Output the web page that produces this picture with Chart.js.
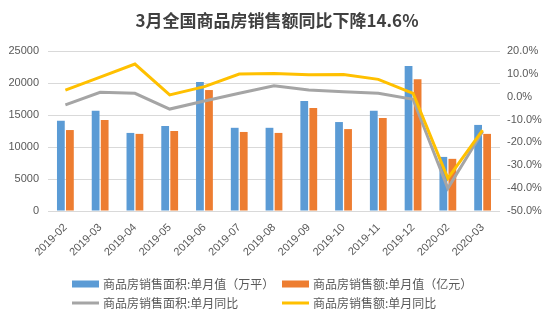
<!DOCTYPE html>
<html>
<head>
<meta charset="utf-8">
<script src="https://cdn.jsdelivr.net/npm/chart.js@4/dist/chart.umd.min.js"></script>
<style>
  html, body { margin: 0; padding: 0; background: #fff; }
  #wrap { width: 554px; height: 322px; }
</style>
</head>
<body>
<div id="wrap"><canvas id="chart" width="554" height="322"></canvas></div>
<script>
const months = ['2019-02', '2019-03', '2019-04', '2019-05', '2019-06', '2019-07', '2019-08',
    '2019-09', '2019-10', '2019-11', '2019-12', '2020-02', '2020-03'];
// 单月值
const areaMonthly = [14100, 15650, 12200, 13300, 20150, 13000, 13000, 17200, 13900, 15650, 22650, 8450, 13450];
const salesMonthly = [12650, 14200, 12050, 12500, 18900, 12350, 12200, 16100, 12800, 14550, 20600, 8150, 12050];
// 单月同比 (%)
const areaYoY = [-3.6, 1.9, 1.5, -5.4, -1.9, 1.5, 4.8, 2.9, 2.2, 1.5, -1.1, -40.1, -15.2];
const salesYoY = [2.9, 8.6, 14.3, 0.8, 4.4, 9.9, 10.2, 9.6, 9.7, 7.6, 1.5, -35.7, -14.6];

const seriesNames = ['商品房销售面积:单月值（万平）', '商品房销售额:单月值（亿元）',
    '商品房销售面积:单月同比', '商品房销售额:单月同比'];

const tickFont = { family: "'Liberation Sans', Arial, sans-serif", size: 11 };
const txtColor = '#595959';

// legend in two fixed columns, like the original
const legendPlugin = {
    id: 'twoColLegend',
    afterDraw(chart) {
        const c = chart.ctx;
        const ds = chart.data.datasets;
        const cols = [72, 282];
        const rows = [284, 303];
        c.save();
        c.font = "12px 'Noto Sans CJK SC', sans-serif";
        c.textBaseline = 'middle';
        ds.forEach((d, i) => {
            const x = cols[i % 2];
            const y = rows[Math.floor(i / 2)];
            if (d.type === 'line') {
                c.fillStyle = d.borderColor;
                c.fillRect(x, y - 1.5, 27, 3);
            } else {
                c.fillStyle = d.backgroundColor;
                c.fillRect(x, y - 3.5, 27, 7);
            }
            c.fillStyle = txtColor;
            c.fillText(d.label, x + 31, y);
        });
        c.restore();
    }
};

new Chart(document.getElementById('chart'), {
    data: {
        labels: months,
        datasets: [
            { type: 'bar', label: seriesNames[0], data: areaMonthly, backgroundColor: '#5B9BD5',
              yAxisID: 'y', order: 2, categoryPercentage: 0.52, barPercentage: 0.86 },
            { type: 'bar', label: seriesNames[1], data: salesMonthly, backgroundColor: '#ED7D31',
              yAxisID: 'y', order: 2, categoryPercentage: 0.52, barPercentage: 0.86 },
            { type: 'line', label: seriesNames[2], data: areaYoY, borderColor: '#A5A5A5',
              backgroundColor: '#A5A5A5', borderWidth: 3, pointRadius: 0, tension: 0,
              yAxisID: 'y1', order: 1 },
            { type: 'line', label: seriesNames[3], data: salesYoY, borderColor: '#FFC000',
              backgroundColor: '#FFC000', borderWidth: 3, pointRadius: 0, tension: 0,
              yAxisID: 'y1', order: 0 }
        ]
    },
    options: {
        responsive: false,
        animation: false,
        layout: { padding: { top: 2, left: 0, right: 0, bottom: 50 } },
        plugins: {
            legend: { display: false },
            tooltip: { enabled: false },
            title: {
                display: true,
                text: '3月全国商品房销售额同比下降14.6%',
                color: '#404040',
                font: { family: "'Noto Sans CJK SC', sans-serif", size: 17, weight: 'bold' },
                padding: { top: 8, bottom: 20.6 }
            }
        },
        scales: {
            x: {
                grid: { display: false },
                border: { display: false },
                ticks: { color: txtColor, font: tickFont, minRotation: 45, maxRotation: 45, autoSkip: false, padding: 2 },
                afterFit: s => { s.height = 61; }
            },
            y: {
                position: 'left',
                min: 0, max: 25000,
                grid: { color: '#D9D9D9', drawTicks: false },
                border: { display: false },
                ticks: { stepSize: 5000, color: txtColor, font: tickFont, padding: 9,
                    callback: v => String(v) },
                afterFit: s => { s.width = 48; }
            },
            y1: {
                position: 'right',
                min: -50, max: 20,
                grid: { display: false, drawTicks: false },
                border: { display: false },
                ticks: { stepSize: 10, color: txtColor, font: tickFont, padding: 7,
                    callback: v => v.toFixed(1) + '%' },
                afterFit: s => { s.width = 54; }
            }
        }
    },
    plugins: [legendPlugin]
});
</script>
</body>
</html>
